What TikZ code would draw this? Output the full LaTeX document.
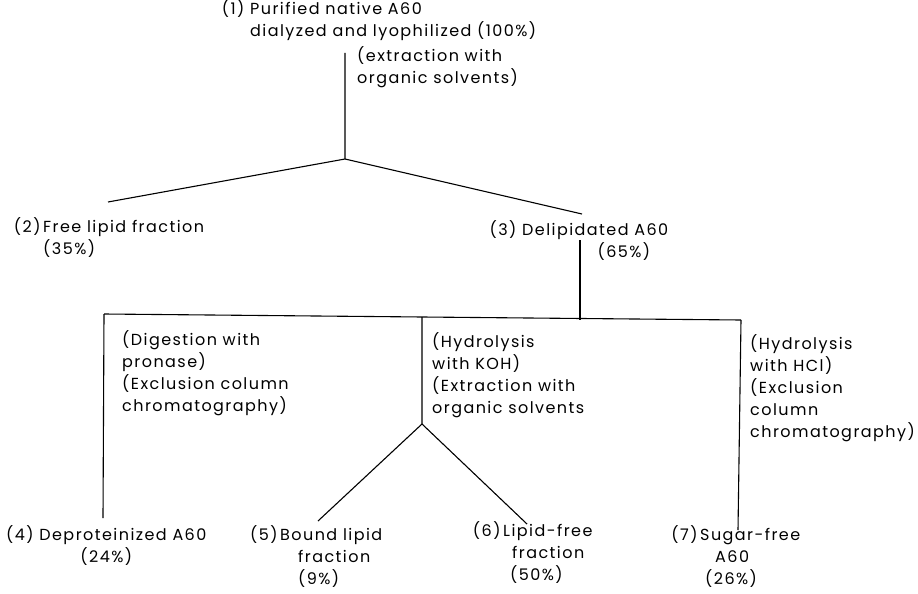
\documentclass[tikz,border=0pt]{standalone}
\usepackage{fontspec}
\setmainfont[LetterSpace=9]{Poppins}
\usetikzlibrary{positioning}

\begin{document}
\begin{tikzpicture}[x=1pt,y=-1pt]
  \tikzset{
    sample/.style={anchor=base west,inner sep=0pt,
      font=\fontsize{16}{22}\selectfont},
    treatment/.style={sample},
    branch/.style={line width=1.1pt}
  }
  \useasboundingbox (0,0) rectangle (918,594);

  % the fractions, numbered as in the scheme
  \node[sample] (n1) at (250,15) {\llap{(1)\ }\begin{tabular}[t]{@{}l@{}}Purified native A60\\
    dialyzed and lyophilized (100\%)\end{tabular}};
  \node[sample] (n2) at (43,232) {\llap{(2)\,}\begin{tabular}[t]{@{}l@{}}Free lipid fraction\\(35\%)\end{tabular}};
  \node[sample] (n3) at (522,235) {\llap{(3)\ }\begin{tabular}[t]{@{}r@{}}Delipidated A60\\(65\%)\hspace{18pt}\mbox{}\end{tabular}};
  \node[sample] (n4) at (6,540) {\begin{tabular}[t]{@{}c@{}}(4) Deproteinized A60\\(24\%)\end{tabular}};
  \node[sample] (n5) at (280,540) {\llap{(5)\,}\begin{tabular}[t]{@{}l@{}}Bound lipid\\\hspace{18pt}fraction\\\hspace{18pt}(9\%)\end{tabular}};
  \node[sample] (n6) at (503,536) {\llap{(6)\,}\begin{tabular}[t]{@{}l@{}}Lipid-free\\\hspace{9pt}fraction\\\hspace{7pt}(50\%)\end{tabular}};
  \node[sample] (n7) at (700,540) {\llap{(7)\,}\begin{tabular}[t]{@{}l@{}}Sugar-free\\\hspace{15pt}A60\\\hspace{5pt}(26\%)\end{tabular}};

  % what was done at each step
  \node[treatment] (t1) at (357,62) {\begin{tabular}[t]{@{}l@{}}(extraction with\\organic solvents)\end{tabular}};
  \node[treatment] (t4) at (122,345) {\begin{tabular}[t]{@{}l@{}}(Digestion with\\pronase)\\(Exclusion column\\chromatography)\end{tabular}};
  \node[treatment] (t5) at (432,347) {\begin{tabular}[t]{@{}l@{}}(Hydrolysis\\with KOH)\\(Extraction with\\organic solvents\end{tabular}};
  \node[treatment] (t7) at (750,349) {\begin{tabular}[t]{@{}l@{}}(Hydrolysis\\with HCl)\\(Exclusion\\column\\chromatography)\end{tabular}};

  % the tree lines
  \coordinate (top1) at (345,53);
  \coordinate (fork1) at (345,159);
  \coordinate (end2) at (108,202);
  \coordinate (end3) at (582,214);
  \draw[branch] (top1) -- (fork1) -- (end2);
  \draw[branch] (fork1) -- (end3);

  \coordinate (top3) at (580,240);
  \coordinate (barL) at (104,314);
  \coordinate (barR) at (741,320);
  \draw[branch] (barL) -- (barR);
  \draw[branch] (top3) -- (top3 |- barR);

  \coordinate (end4) at (103,518);
  \coordinate (midtop) at (422,317);
  \coordinate (fork5) at (422,424);
  \coordinate (end5) at (318,521);
  \coordinate (end6) at (527,524);
  \coordinate (end7) at (738,530);
  \draw[branch] (barL) -- (end4);
  \draw[branch] (midtop) -- (fork5) -- (end5);
  \draw[branch] (fork5) -- (end6);
  \draw[branch] (barR) -- (end7);
\end{tikzpicture}
\end{document}
